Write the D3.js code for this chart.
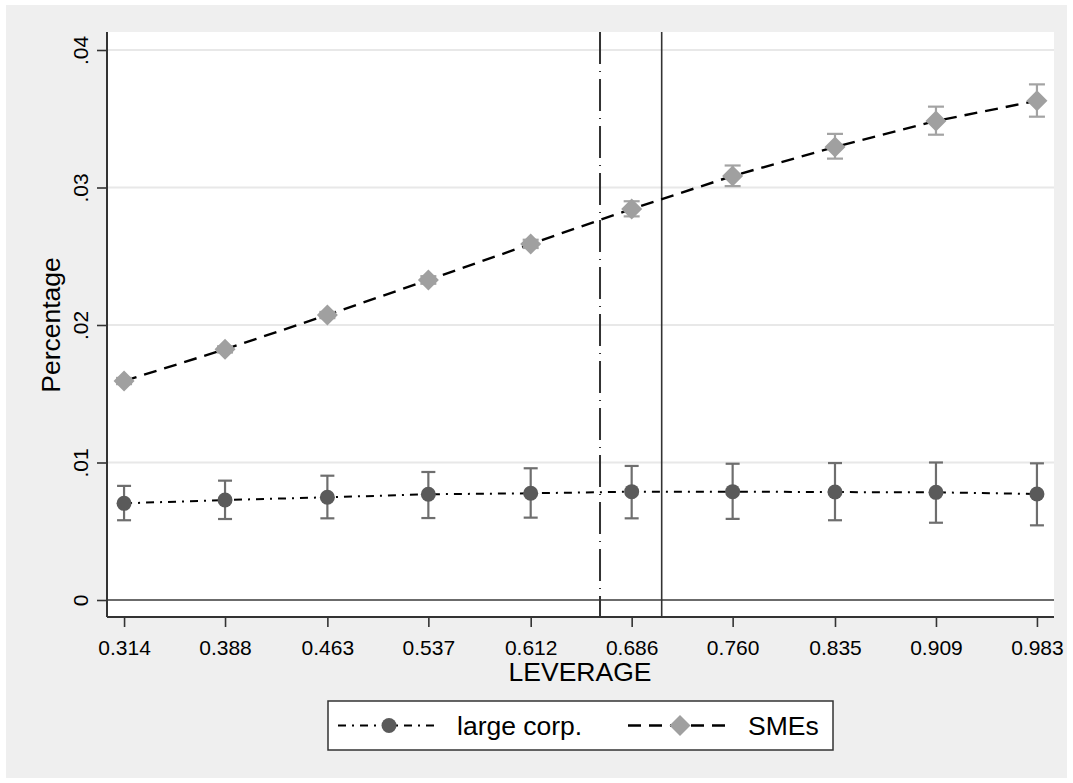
<!DOCTYPE html>
<html><head><meta charset="utf-8">
<script src="https://cdn.jsdelivr.net/npm/d3@7"></script>
<style>html,body{margin:0;padding:0;background:#fff;}svg{display:block;font-family:"Liberation Sans",Arial,sans-serif;}</style>
</head><body>
<svg id="c" width="1073" height="783"></svg>
<script>
const leverage = [0.314, 0.388, 0.463, 0.537, 0.612, 0.686, 0.760, 0.835, 0.909, 0.983];
const xTickLabels = ["0.314","0.388","0.463","0.537","0.612","0.686","0.760","0.835","0.909","0.983"];
const yTicks = [0, 0.01, 0.02, 0.03, 0.04];
const yTickLabels = ["0", ".01", ".02", ".03", ".04"];
const largeVal = [0.00703, 0.00727, 0.00747, 0.00769, 0.00776, 0.00788, 0.00788, 0.00785, 0.00783, 0.00771];
const largeLo  = [0.00580, 0.00589, 0.00594, 0.00596, 0.00599, 0.00594, 0.00590, 0.00580, 0.00562, 0.00543];
const largeHi  = [0.00830, 0.00868, 0.00904, 0.00931, 0.00958, 0.00975, 0.00991, 0.00996, 0.01000, 0.00994];
const smeVal = [0.01593, 0.01823, 0.02073, 0.02327, 0.02589, 0.02844, 0.03084, 0.03295, 0.03484, 0.03631];
const smeLo  = [0.01570, 0.01800, 0.02050, 0.02300, 0.02560, 0.02790, 0.03010, 0.03210, 0.03384, 0.03515];
const smeHi  = [0.01615, 0.01845, 0.02095, 0.02355, 0.02620, 0.02900, 0.03160, 0.03390, 0.03588, 0.03750];
const xLineDashDot = 0.6628;
const xLineSolid = 0.708;
const seriesNames = ["large corp.", "SMEs"];

const svg = d3.select("#c");
svg.append("rect").attr("x",6).attr("y",5).attr("width",1061).attr("height",773).attr("fill","#efefef");

const L=107, R=1054, T=32, B=617;
const x = d3.scaleLinear().domain([0.3015, 0.9955]).range([L, R]);
const y = d3.scaleLinear().domain([0, 0.04]).range([600, 50]);

svg.append("rect").attr("x",L).attr("y",T).attr("width",R-L).attr("height",B-T).attr("fill","#fff");

// gridlines
svg.append("g").selectAll("line").data(yTicks.filter(d=>d>0)).join("line")
  .attr("x1",L).attr("x2",R).attr("y1",d=>y(d)).attr("y2",d=>y(d))
  .attr("stroke","#e8e8e8").attr("stroke-width",2);
// zero line
svg.append("line").attr("x1",L).attr("x2",R).attr("y1",y(0)).attr("y2",y(0)).attr("stroke","#3a3a3a").attr("stroke-width",1.5);

// vertical reference lines
svg.append("line").attr("x1",x(xLineDashDot)).attr("x2",x(xLineDashDot)).attr("y1",T).attr("y2",B)
  .attr("stroke","#333").attr("stroke-width",2).attr("stroke-dasharray","32,7,1,7");
svg.append("line").attr("x1",x(xLineSolid)).attr("x2",x(xLineSolid)).attr("y1",T).attr("y2",B)
  .attr("stroke","#333").attr("stroke-width",1.6);

// axes
const yAxis = d3.axisLeft(y).tickValues(yTicks).tickFormat((d,i)=>yTickLabels[i]).tickSize(10).tickSizeOuter(0);
const gy = svg.append("g").attr("transform",`translate(${L},0)`).call(yAxis);
gy.select(".domain").remove();
gy.selectAll(".tick line").attr("stroke","#333").attr("stroke-width",1.6);
gy.selectAll(".tick text").attr("x",null).attr("dy",null).attr("text-anchor","middle")
  .attr("transform","translate(-19,0) rotate(-90)").attr("font-size",21).attr("fill","#000");
svg.append("line").attr("x1",L).attr("x2",L).attr("y1",T).attr("y2",B).attr("stroke","#333").attr("stroke-width",2);

const xAxis = d3.axisBottom(x).tickValues(leverage).tickFormat((d,i)=>xTickLabels[i]).tickSize(10).tickSizeOuter(0);
const gx = svg.append("g").attr("transform",`translate(0,${B})`).call(xAxis);
gx.select(".domain").remove();
gx.selectAll(".tick line").attr("stroke","#333").attr("stroke-width",1.6);
gx.selectAll(".tick text").attr("y",38).attr("dy",null).attr("font-size",21).attr("fill","#000");
svg.append("line").attr("x1",L).attr("x2",R).attr("y1",B).attr("y2",B).attr("stroke","#333").attr("stroke-width",2);

// titles
svg.append("text").attr("x",580).attr("y",681).attr("text-anchor","middle").attr("font-size",26.5).text("LEVERAGE");
svg.append("text").attr("transform","translate(60,325) rotate(-90)").attr("text-anchor","middle").attr("font-size",26.5).text("Percentage");

const largeData = leverage.map((v,i)=>({x:v,y:largeVal[i],lo:largeLo[i],hi:largeHi[i]}));
const smeData = leverage.map((v,i)=>({x:v,y:smeVal[i],lo:smeLo[i],hi:smeHi[i]}));
const line = d3.line().x(d=>x(d.x)).y(d=>y(d.y));

// lines
svg.append("path").datum(largeData).attr("d",line).attr("fill","none").attr("stroke","#000").attr("stroke-width",2).attr("stroke-dasharray","8,6,2,6");
svg.append("path").datum(smeData).attr("d",line).attr("fill","none").attr("stroke","#000").attr("stroke-width",2.4).attr("stroke-dasharray","13,8");

function errbars(data, color, hw){
  const g = svg.append("g").attr("stroke",color).attr("stroke-width",2.2);
  g.selectAll(".v").data(data).join("line").attr("x1",d=>x(d.x)).attr("x2",d=>x(d.x)).attr("y1",d=>y(d.lo)).attr("y2",d=>y(d.hi));
  g.selectAll(".t").data(data).join("line").attr("x1",d=>x(d.x)-hw).attr("x2",d=>x(d.x)+hw).attr("y1",d=>y(d.hi)).attr("y2",d=>y(d.hi));
  g.selectAll(".b").data(data).join("line").attr("x1",d=>x(d.x)-hw).attr("x2",d=>x(d.x)+hw).attr("y1",d=>y(d.lo)).attr("y2",d=>y(d.lo));
}
errbars(largeData, "#6e6e6e", 7);
errbars(smeData, "#a3a3a3", 8);

svg.append("g").selectAll("circle").data(largeData).join("circle")
  .attr("cx",d=>x(d.x)).attr("cy",d=>y(d.y)).attr("r",7.5).attr("fill","#5a5a5a");
const diamond = s => `M0,${-s}L${s},0L0,${s}L${-s},0Z`;
svg.append("g").selectAll("path").data(smeData).join("path")
  .attr("transform",d=>`translate(${x(d.x)},${y(d.y)})`).attr("d",diamond(10.5)).attr("fill","#a0a0a0");

// legend
const lg = svg.append("g");
lg.append("rect").attr("x",328).attr("y",701).attr("width",505).attr("height",49).attr("fill","#fff").attr("stroke","#333").attr("stroke-width",1.5);
lg.append("line").attr("x1",338).attr("x2",438).attr("y1",725.5).attr("y2",725.5).attr("stroke","#000").attr("stroke-width",2).attr("stroke-dasharray","8,6,2,6");
lg.append("circle").attr("cx",389).attr("cy",725.5).attr("r",7.5).attr("fill","#5a5a5a");
lg.append("text").attr("x",457).attr("y",735).attr("font-size",26.5).text(seriesNames[0]);
lg.append("line").attr("x1",628).attr("x2",729).attr("y1",725.5).attr("y2",725.5).attr("stroke","#000").attr("stroke-width",2.4).attr("stroke-dasharray","13,8");
lg.append("path").attr("transform","translate(680,725.5)").attr("d",diamond(10.5)).attr("fill","#a0a0a0");
lg.append("text").attr("x",748).attr("y",735).attr("font-size",26.5).text(seriesNames[1]);
</script>
</body></html>
